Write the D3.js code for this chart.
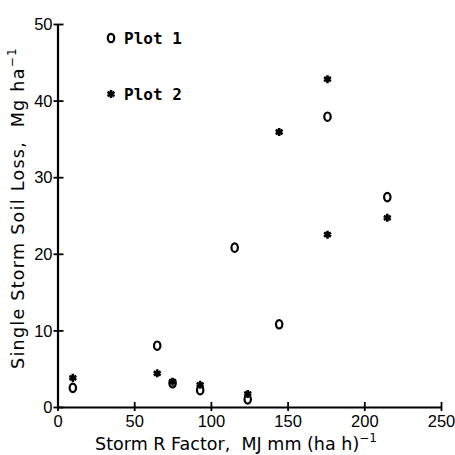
<!DOCTYPE html>
<html><head><meta charset="utf-8">
<script src="https://cdn.jsdelivr.net/npm/d3@7"></script>
<style>body{margin:0;background:#fff}</style>
</head><body>
<svg id="c" width="455" height="455"></svg>
<script>
const xTicks = [0, 50, 100, 150, 200, 250];
const yTicks = [0, 10, 20, 30, 40, 50];
const plot1X = [10, 65, 75, 93, 115.5, 124, 144.5, 176, 215];
const plot1Y = [2.5, 8.0, 3.1, 2.2, 20.8, 1.0, 10.8, 37.9, 27.4];
const plot2X = [10, 65, 75, 93, 124, 144.5, 176, 176, 215];
const plot2Y = [3.8, 4.4, 3.3, 2.9, 1.7, 35.9, 42.8, 22.5, 24.7];
const legendLabels = ["Plot 1", "Plot 2"];

const svg = d3.select("#c");
const x = d3.scaleLinear().domain([0, 250]).range([57.5, 441]);
const y = d3.scaleLinear().domain([0, 50]).range([407, 24]);

// axes
const gx = svg.append("g").attr("transform", `translate(0,${y(0)})`)
  .call(d3.axisBottom(x).tickValues(xTicks).tickSize(0).tickPadding(8));
gx.select(".domain").attr("stroke", "#000").attr("stroke-width", 2.2);
gx.selectAll(".tick line").remove();
gx.selectAll(".tick").append("line").attr("y1", -5).attr("y2", 4).attr("stroke", "#000").attr("stroke-width", 1.8);
gx.selectAll(".tick text").style("font-family", "Liberation Sans").style("font-size", "16.5px").attr("fill", "#000");

const gy = svg.append("g").attr("transform", `translate(${x(0)},0)`)
  .call(d3.axisLeft(y).tickValues(yTicks).tickSize(0).tickPadding(5));
gy.select(".domain").attr("stroke", "#000").attr("stroke-width", 2.2);
gy.selectAll(".tick line").remove();
gy.selectAll(".tick").append("line").attr("x1", -4).attr("x2", 6).attr("stroke", "#000").attr("stroke-width", 1.8);
gy.selectAll(".tick text").style("font-family", "Liberation Sans").style("font-size", "16.5px").attr("fill", "#000").attr("dy", "0.35em");

// axis titles
const titleStyle = t => t.style("font-family", "DejaVu Sans").style("font-size", "17.5px").style("white-space", "pre").attr("fill", "#000");
function fitTitle(t, target) {
  const w = t.node().getBBox().width;
  const n = t.text().length;
  t.style("letter-spacing", ((target - w) / n) + "px");
}
const xt = svg.append("text").attr("x", 236).attr("y", 450).attr("text-anchor", "middle").call(titleStyle);
xt.append("tspan").text("Storm R Factor,  MJ mm (ha h)");
xt.append("tspan").attr("dy", -8).style("font-size", "12px").text("\u22121");
fitTitle(xt, 282);

const yt = svg.append("text").attr("transform", "translate(24,208) rotate(-90)").attr("text-anchor", "middle").call(titleStyle);
yt.append("tspan").text("Single Storm Soil Loss,  Mg ha");
yt.append("tspan").attr("dy", -8).style("font-size", "12px").text("\u22121");
fitTitle(yt, 322);

// markers
const circ = (g, cx, cy) => g.append("ellipse").attr("cx", cx).attr("cy", cy).attr("rx", 3.2).attr("ry", 4.2)
  .attr("fill", "none").attr("stroke", "#000").attr("stroke-width", 2.2);
const star = (g, cx, cy) => g.append("path").attr("d", d3.symbol(d3.symbolAsterisk, 45)())
  .attr("transform", `translate(${cx},${cy})`).attr("fill", "none").attr("stroke", "#000").attr("stroke-width", 2.6);

const pts = svg.append("g");
plot1X.forEach((v, i) => circ(pts, x(v), y(plot1Y[i])));
plot2X.forEach((v, i) => star(pts, x(v), y(plot2Y[i])));

// legend
const lg = svg.append("g");
circ(lg, 111, 38);
star(lg, 111, 94);
lg.selectAll("text.l").data(legendLabels).join("text").attr("class", "l")
  .attr("x", 124).attr("y", (d, i) => 44 + i * 56)
  .style("font-family", "DejaVu Sans Mono").style("font-size", "16px").style("font-weight", "bold")
  .attr("fill", "#000").text(d => d);
</script>
</body></html>
